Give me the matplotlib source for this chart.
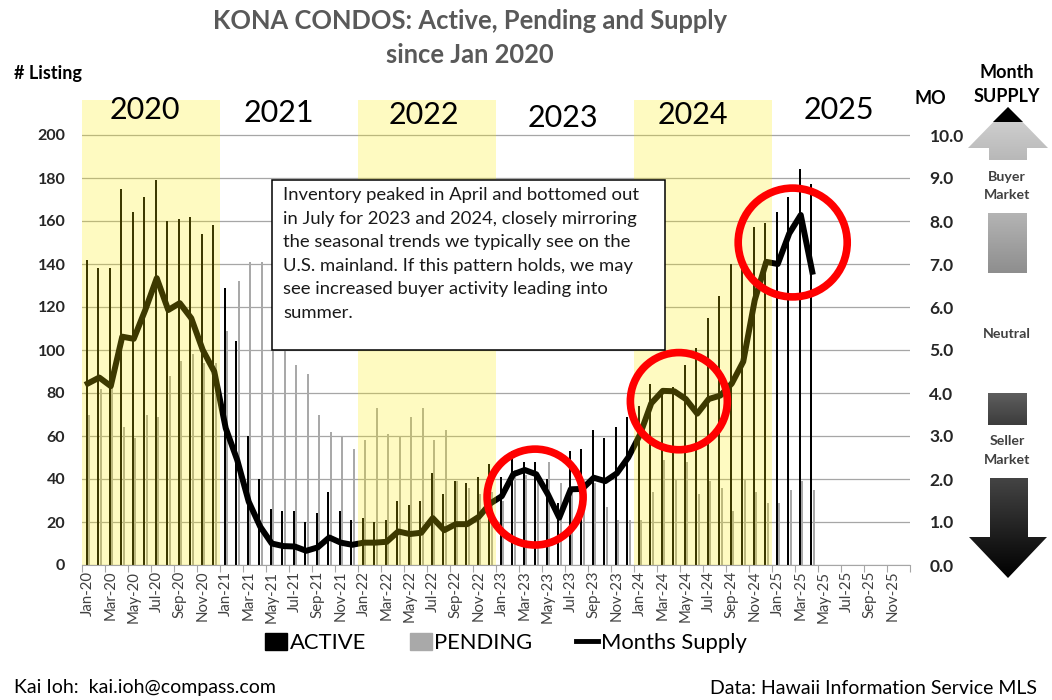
import matplotlib
matplotlib.use("Agg")
import matplotlib.pyplot as plt
import numpy as np
from matplotlib.patches import Ellipse, Rectangle, Polygon, Patch
from matplotlib.lines import Line2D
from matplotlib.colors import LinearSegmentedColormap

plt.rcParams['font.family'] = ['Lato', 'DejaVu Sans']

# ---- data -------------------------------------------------------------
month_names = ['Jan', 'Feb', 'Mar', 'Apr', 'May', 'Jun',
               'Jul', 'Aug', 'Sep', 'Oct', 'Nov', 'Dec']
years = [20, 21, 22, 23, 24, 25]
month_labels = [f"{m}-{y}" for y in years for m in month_names]

# Jan-20 .. Apr-25
active = [142, 138, 138, 175, 164, 171, 179, 160, 161, 162, 154, 158,
          129, 104, 60, 40, 26, 25, 25, 20, 24, 34, 25, 21,
          22, 20, 21, 30, 28, 30, 43, 33, 39, 38, 41, 47,
          41, 53, 48, 48, 40, 29, 53, 54, 63, 59, 64, 69,
          74, 84, 82, 83, 93, 101, 115, 125, 140, 139, 157, 159,
          164, 171, 184, 177]
pending = [70, 82, 83, 64, 59, 70, 69, 88, 95, 98, 94, 94,
           109, 132, 141, 141, 118, 105, 93, 89, 70, 62, 60, 54,
           58, 73, 61, 60, 69, 73, 58, 63, 39, 36, 33, 34,
           30, 44, 42, 40, 48, 38, 36, 40, 38, 27, 21, 21,
           21, 34, 49, 40, 48, 33, 39, 36, 25, 40, 34, 29,
           29, 35, 39, 35]
supply = [4.22, 4.36, 4.16, 5.31, 5.26, 5.93, 6.67, 5.93, 6.09, 5.74, 5.0, 4.5,
          3.18, 2.44, 1.47, 0.89, 0.50, 0.44, 0.43, 0.33, 0.41, 0.64, 0.52, 0.47,
          0.52, 0.52, 0.54, 0.78, 0.72, 0.75, 1.09, 0.81, 0.95, 0.95, 1.12, 1.43,
          1.60, 2.11, 2.21, 2.11, 1.65, 1.10, 1.76, 1.77, 2.03, 1.95, 2.13, 2.50,
          3.02, 3.76, 4.05, 4.04, 3.86, 3.52, 3.86, 3.94, 4.22, 4.73, 6.16, 7.05,
          7.00, 7.71, 8.14, 6.82]

shaded_years = [0, 24, 48]          # first month index of shaded years
year_text = ['2020', '2021', '2022', '2023', '2024', '2025']
year_pos = [5.0, 16.6, 29.2, 41.3, 52.6, 65.3]
year_lvl = [10.58, 10.51, 10.47, 10.40, 10.47, 10.58]

note = ("Inventory peaked in April and bottomed out\n"
        "in July for 2023 and 2024, closely mirroring\n"
        "the seasonal trends we typically see on the\n"
        "U.S. mainland. If this pattern holds, we may\n"
        "see increased buyer activity leading into\n"
        "summer.")

# ---- figure -----------------------------------------------------------
W, H = 1052, 700
fig = plt.figure(figsize=(W / 100, H / 100), dpi=100)
ax = fig.add_axes([82 / W, 135 / H, 828 / W, 465 / H])
ytop = 465 / 2.15

x = np.arange(len(active))
ax.bar(x - 0.07, active, width=0.17, color='black', zorder=2)
ax.bar(x + 0.12, pending, width=0.17, color='#a9a9a9', zorder=2)

ax.set_xlim(-0.5, 71.5)
ax.set_ylim(0, ytop)
ax.set_yticks(np.arange(0, 201, 20))
ax.yaxis.grid(True, color='#a6a6a6', lw=0.9)
ax.set_axisbelow(True)
for s in ['left', 'top', 'right']:
    ax.spines[s].set_visible(False)
ax.spines['bottom'].set_color('#a6a6a6')
ax.tick_params(axis='y', length=0, pad=12, labelsize=11.5, labelcolor='#262626')
for t in ax.get_yticklabels():
    t.set_fontweight('bold')

ax.set_xticks(np.arange(-0.5, 72, 2))
ax.set_xticklabels([])
ax.tick_params(axis='x', which='major', length=5, color='#a6a6a6')
ax.set_xticks(np.arange(0, 72, 2), minor=True)
ax.set_xticklabels(month_labels[::2], minor=True, rotation=90,
                   fontsize=10.8, color='#404040')
ax.tick_params(axis='x', which='minor', length=0, pad=4)

ax2 = ax.twinx()
ax2.set_ylim(0, ytop / 20)
ax2.set_yticks(np.arange(0, 11, 1))
ax2.set_yticklabels([f"{v:.1f}" for v in range(11)])
ax2.tick_params(axis='y', length=0, pad=14, labelsize=12.5, labelcolor='#262626')
for t in ax2.get_yticklabels():
    t.set_fontweight('bold')
for s in ax2.spines.values():
    s.set_visible(False)
ax2.plot(x, supply, color='black', lw=4.3, solid_joinstyle='round', zorder=2)

for s0 in shaded_years:
    ax2.axvspan(s0 - 0.5, s0 + 11.5, color='#fded00', alpha=0.245, lw=0, zorder=3)

for cx, cy, w, h in [(38.9, 1.58, 8.35, 2.23), (51.4, 3.81, 8.43, 2.26),
                     (61.3, 7.50, 9.48, 2.53)]:
    ax2.add_patch(Ellipse((cx, cy), w, h, fill=False, ec='#ff0000', lw=5.5, zorder=4))

for t, px, py in zip(year_text, year_pos, year_lvl):
    ax2.text(px, py, t, fontsize=22, ha='center', va='center', zorder=5)

# ---- overlay in pixel coordinates --------------------------------------
fx = fig.add_axes([0, 0, 1, 1])
fx.set_xlim(0, W)
fx.set_ylim(H, 0)
fx.axis('off')

fx.add_patch(Rectangle((272, 180), 393, 170, fc='white', ec='black', lw=1.1))
fx.text(283, 187, note, ha='left', va='top', fontsize=13.3, linespacing=1.58,
        color='#1a1a1a')

fx.text(470, 21, "KONA CONDOS: Active, Pending and Supply", ha='center',
        va='center', fontsize=18.4, fontweight='bold', color='#595959')
fx.text(470, 55, "since Jan 2020", ha='center', va='center', fontsize=18.4,
        fontweight='bold', color='#595959')
fx.text(48, 73, "# Listing", ha='center', va='center', fontsize=13, fontweight='bold')
fx.text(930, 98, "MO", ha='center', va='center', fontsize=13, fontweight='bold')
fx.text(1007, 72, "Month", ha='center', va='center', fontsize=13, fontweight='bold')
fx.text(1007, 96, "SUPPLY", ha='center', va='center', fontsize=13, fontweight='bold')


def grad_poly(verts, c_top, c_bot):
    poly = Polygon(verts, closed=True, fc='none', ec='none')
    fx.add_patch(poly)
    xs = [v[0] for v in verts]
    ys = [v[1] for v in verts]
    cmap = LinearSegmentedColormap.from_list('g', [c_top, c_bot])
    im = fx.imshow(np.linspace(0, 1, 128)[:, None], cmap=cmap, aspect='auto',
                   extent=(min(xs), max(xs), max(ys), min(ys)))
    im.set_clip_path(poly)


# market arrows
grad_poly([(1008, 107), (1048, 148), (1027, 148), (1027, 160), (989, 160),
           (989, 148), (968, 148)], '#d6d6d6', '#b8b8b8')
fx.add_patch(Polygon([(1008, 107), (1023, 122), (993, 122)], fc='black', ec='none'))
grad_poly([(988, 213), (1027, 213), (1027, 273), (988, 273)], '#b4b4b4', '#8e8e8e')
grad_poly([(988, 393), (1027, 393), (1027, 425), (988, 425)], '#5e5e5e', '#3c3c3c')
grad_poly([(990, 478), (1028, 478), (1028, 537), (1047, 537), (1008, 578),
           (969, 537), (990, 537)], '#444444', '#000000')
fx.set_xlim(0, W)
fx.set_ylim(H, 0)

for txt, py in [("Buyer", 177), ("Market", 195), ("Neutral", 334),
                ("Seller", 441), ("Market", 460)]:
    fx.text(1007, py, txt, ha='center', va='center', fontsize=10.2,
            fontweight='bold', color='#404040')

handles = [Patch(color='black'), Patch(color='#a9a9a9'),
           Line2D([], [], color='black', lw=3.5)]
fig.legend(handles, ['ACTIVE', 'PENDING', 'Months Supply'], loc='center',
           bbox_to_anchor=(506 / W, 1 - 643 / H), ncol=3, frameon=False,
           fontsize=15.8, handlelength=1.0, handleheight=0.8,
           handletextpad=0.12, columnspacing=2.0)

fx.text(14, 688, "Kai Ioh:  kai.ioh@compass.com", ha='left', va='center', fontsize=14)
fx.text(1037, 688, "Data: Hawaii Information Service MLS", ha='right',
        va='center', fontsize=14)

fig.savefig("out.png", dpi=100)
